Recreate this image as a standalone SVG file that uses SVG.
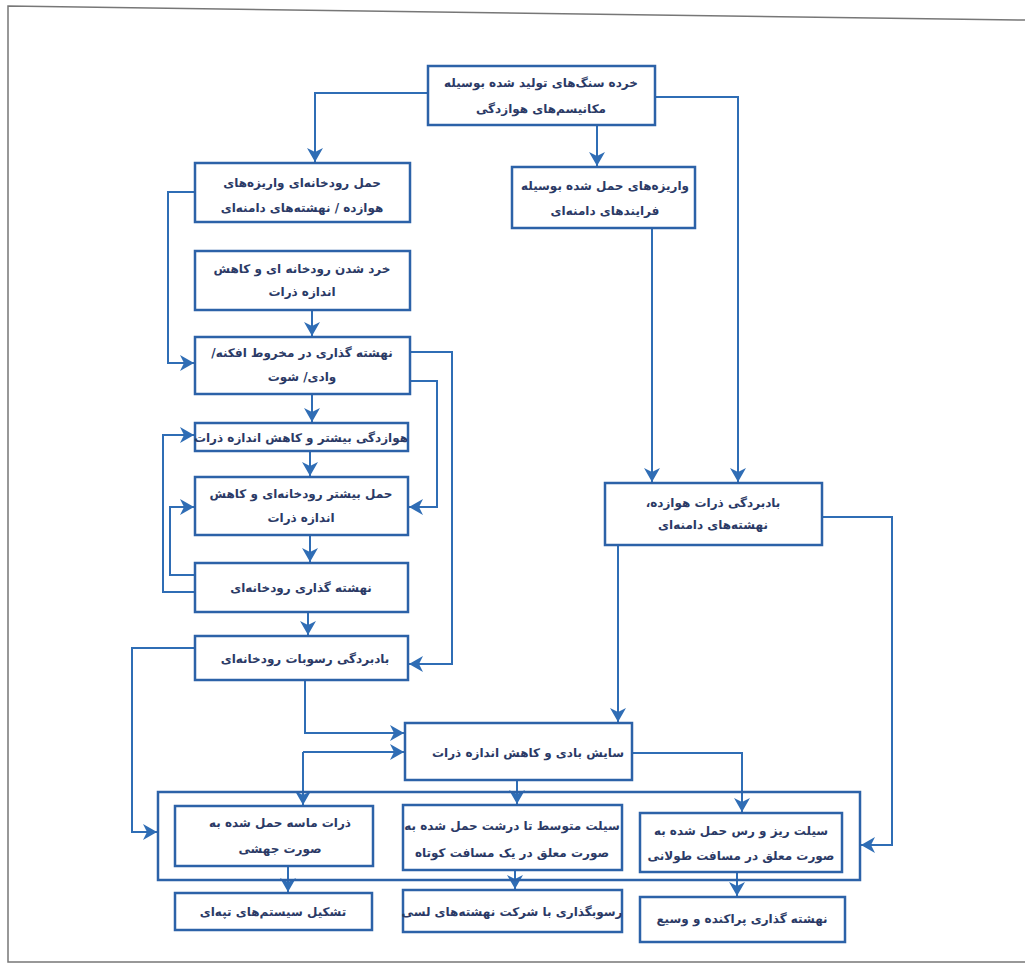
<svg xmlns="http://www.w3.org/2000/svg" width="1025" height="974" viewBox="0 0 1025 974">
<defs>
<marker id="ah" viewBox="0 -9 15 18" refX="14" refY="0" markerWidth="15" markerHeight="18" markerUnits="userSpaceOnUse" orient="auto">
<path d="M0,-8 L14,0 L0,8 L4,0 Z" fill="#2f6db5"/>
</marker>
<style>
.bx{fill:#ffffff;stroke:#2c62a8;stroke-width:2.5}
.ct{fill:none;stroke:#2c62a8;stroke-width:2.5}
.ar{fill:none;stroke:#2f6db5;stroke-width:2;marker-end:url(#ah)}
.tx{font-family:"DejaVu Sans",sans-serif;font-weight:bold;font-size:12px;fill:#2b3a66;text-anchor:middle;direction:rtl}
.frame{fill:none;stroke:#777;stroke-width:1.5}
</style>
</defs>
<rect x="0" y="0" width="1025" height="974" fill="#ffffff"/>
<path class="frame" d="M1025,20 L8,6 L8,962 L1025,962"/>

<g id="connectors">
<path class="ar" d="M428,93 L315,93 L315,162"/>
<path class="ar" d="M655,97 L738,97 L738,482"/>
<path class="ar" d="M597,125 L597,166"/>
<path class="ar" d="M652,228 L652,482"/>
<path class="ar" d="M195,192 L168,192 L168,363 L194,363"/>
<path class="ar" d="M312,310 L312,336"/>
<path class="ar" d="M410,352 L452,352 L452,664 L409,664"/>
<path class="ar" d="M410,381 L437,381 L437,507 L409,507"/>
<path class="ar" d="M312,394 L312,422"/>
<path class="ar" d="M310,451 L310,476"/>
<path class="ar" d="M310,535 L310,562"/>
<path class="ar" d="M195,575 L170,575 L170,507 L194,507"/>
<path class="ar" d="M195,592 L163,592 L163,435 L194,435"/>
<path class="ar" d="M308,612 L308,635"/>
<path class="ar" d="M195,648 L132,648 L132,832 L157,832"/>
<path class="ar" d="M305,680 L305,733 L404,733"/>
<path class="ar" d="M303,752 L404,752"/>
<path class="ar" d="M303,752 L303,805"/>
<path class="ar" d="M618,545 L618,722"/>
<path class="ar" d="M822,517 L892,517 L892,845 L861,845"/>
<path class="ar" d="M517,780 L517,804"/>
<path class="ar" d="M632,753 L742,753 L742,812"/>
<path class="ar" d="M288,866 L288,892"/>
<path class="ar" d="M515,870 L515,889"/>
<path class="ar" d="M737,872 L737,896"/>
</g>

<g id="container">
<rect class="ct" x="158" y="792" width="702" height="88"/>
</g>

<g id="n1">
<rect class="bx" x="428" y="66" width="227" height="59"/>
<text class="tx" x="541" y="87">خرده سنگ&#x200C;های تولید شده بوسیله</text>
<text class="tx" x="541" y="113">مکانیسم&#x200C;های هوازدگی</text>
</g>
<g id="n2">
<rect class="bx" x="195" y="163" width="215" height="59"/>
<text class="tx" x="302" y="187">حمل رودخانه&#x200C;ای واریزه&#x200C;های</text>
<text class="tx" x="302" y="212">هوازده / نهشته&#x200C;های دامنه&#x200C;ای</text>
</g>
<g id="n3">
<rect class="bx" x="512" y="167" width="183" height="61"/>
<text class="tx" x="605" y="190">واریزه&#x200C;های حمل شده بوسیله</text>
<text class="tx" x="605" y="215">فرایندهای دامنه&#x200C;ای</text>
</g>
<g id="n4">
<rect class="bx" x="195" y="251" width="215" height="59"/>
<text class="tx" x="302" y="273">خرد شدن رودخانه ای و کاهش</text>
<text class="tx" x="302" y="296">اندازه ذرات</text>
</g>
<g id="n5">
<rect class="bx" x="195" y="337" width="215" height="57"/>
<text class="tx" x="302" y="357">نهشته گذاری در مخروط افکنه/</text>
<text class="tx" x="302" y="381">وادی/ شوت</text>
</g>
<g id="n6">
<rect class="bx" x="195" y="423" width="213" height="28"/>
<text class="tx" x="301" y="442">هوازدگی بیشتر و کاهش اندازه ذرات</text>
</g>
<g id="n7">
<rect class="bx" x="195" y="477" width="213" height="58"/>
<text class="tx" x="301" y="498">حمل بیشتر رودخانه&#x200C;ای و کاهش</text>
<text class="tx" x="301" y="522">اندازه ذرات</text>
</g>
<g id="n8">
<rect class="bx" x="195" y="563" width="213" height="49"/>
<text class="tx" x="301" y="592">نهشته گذاری رودخانه&#x200C;ای</text>
</g>
<g id="n9b">
<rect class="bx" x="195" y="636" width="213" height="44"/>
<text class="tx" x="305" y="663">بادبردگی رسوبات رودخانه&#x200C;ای</text>
</g>
<g id="n9">
<rect class="bx" x="605" y="483" width="217" height="62"/>
<text class="tx" x="713" y="507">بادبردگی ذرات هوازده،</text>
<text class="tx" x="713" y="529">نهشته&#x200C;های دامنه&#x200C;ای</text>
</g>
<g id="n10">
<rect class="bx" x="405" y="723" width="227" height="57"/>
<text class="tx" x="528" y="757">سایش بادی و کاهش اندازه ذرات</text>
</g>
<g id="n11">
<rect class="bx" x="175" y="806" width="198" height="60"/>
<text class="tx" x="280" y="827">ذرات ماسه حمل شده به</text>
<text class="tx" x="280" y="853">صورت جهشی</text>
</g>
<g id="n12">
<rect class="bx" x="403" y="805" width="219" height="65"/>
<text class="tx" x="512" y="830">سیلت متوسط تا درشت حمل شده به</text>
<text class="tx" x="512" y="857">صورت معلق در یک مسافت کوتاه</text>
</g>
<g id="n13">
<rect class="bx" x="640" y="813" width="202" height="59"/>
<text class="tx" x="741" y="835">سیلت ریز و رس حمل شده به</text>
<text class="tx" x="741" y="860">صورت معلق در مسافت طولانی</text>
</g>
<g id="n14">
<rect class="bx" x="175" y="893" width="197" height="37"/>
<text class="tx" x="273" y="916">تشکیل سیستم&#x200C;های تپه&#x200C;ای</text>
</g>
<g id="n15">
<rect class="bx" x="403" y="890" width="219" height="42"/>
<text class="tx" x="512" y="916">رسوبگذاری با شرکت نهشته&#x200C;های لسی</text>
</g>
<g id="n16">
<rect class="bx" x="640" y="897" width="205" height="45"/>
<text class="tx" x="742" y="923">نهشته گذاری پراکنده و وسیع</text>
</g>
</svg>
